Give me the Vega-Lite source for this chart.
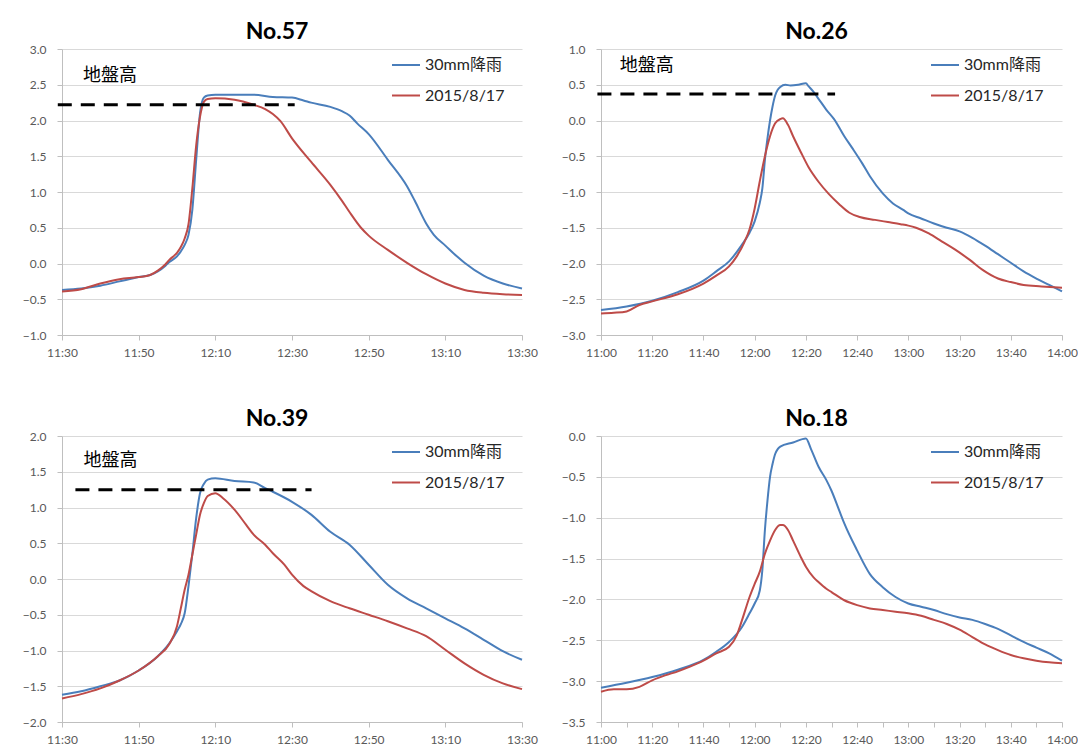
{
  "$schema": "https://vega.github.io/schema/vega-lite/v6.json",
  "padding": {"left": 22, "top": 21, "right": 0, "bottom": 0},
  "background": "white",
  "columns": 2,
  "spacing": {"row": 48, "column": 23},
  "resolve": {"scale": {"color": "independent"}, "legend": {"color": "independent"}},
  "datasets": {
    "ground": [
      {"panel": "No.57", "level": 2.22, "label": "地盤高"},
      {"panel": "No.26", "level": 0.37, "label": "地盤高"},
      {"panel": "No.39", "level": 1.25, "label": "地盤高"}
    ],
    "p57": [
      {"series": "30mm降雨", "time": "11:30", "value": -0.37},
      {"series": "30mm降雨", "time": "11:35", "value": -0.35},
      {"series": "30mm降雨", "time": "11:40", "value": -0.31},
      {"series": "30mm降雨", "time": "11:45", "value": -0.25},
      {"series": "30mm降雨", "time": "11:50", "value": -0.19},
      {"series": "30mm降雨", "time": "11:53", "value": -0.16},
      {"series": "30mm降雨", "time": "11:55", "value": -0.11},
      {"series": "30mm降雨", "time": "11:57", "value": -0.03},
      {"series": "30mm降雨", "time": "11:58", "value": 0.02},
      {"series": "30mm降雨", "time": "12:00", "value": 0.10},
      {"series": "30mm降雨", "time": "12:01", "value": 0.17},
      {"series": "30mm降雨", "time": "12:02", "value": 0.26},
      {"series": "30mm降雨", "time": "12:03", "value": 0.40},
      {"series": "30mm降雨", "time": "12:04", "value": 0.75},
      {"series": "30mm降雨", "time": "12:05", "value": 1.45},
      {"series": "30mm降雨", "time": "12:06", "value": 2.10},
      {"series": "30mm降雨", "time": "12:07", "value": 2.32},
      {"series": "30mm降雨", "time": "12:08", "value": 2.35},
      {"series": "30mm降雨", "time": "12:10", "value": 2.36},
      {"series": "30mm降雨", "time": "12:15", "value": 2.36},
      {"series": "30mm降雨", "time": "12:20", "value": 2.36},
      {"series": "30mm降雨", "time": "12:25", "value": 2.33},
      {"series": "30mm降雨", "time": "12:30", "value": 2.32},
      {"series": "30mm降雨", "time": "12:33", "value": 2.28},
      {"series": "30mm降雨", "time": "12:35", "value": 2.25},
      {"series": "30mm降雨", "time": "12:40", "value": 2.19},
      {"series": "30mm降雨", "time": "12:43", "value": 2.13},
      {"series": "30mm降雨", "time": "12:45", "value": 2.07},
      {"series": "30mm降雨", "time": "12:47", "value": 1.96},
      {"series": "30mm降雨", "time": "12:50", "value": 1.81},
      {"series": "30mm降雨", "time": "12:55", "value": 1.45},
      {"series": "30mm降雨", "time": "13:00", "value": 1.08},
      {"series": "30mm降雨", "time": "13:02", "value": 0.88},
      {"series": "30mm降雨", "time": "13:05", "value": 0.56},
      {"series": "30mm降雨", "time": "13:07", "value": 0.40},
      {"series": "30mm降雨", "time": "13:10", "value": 0.25},
      {"series": "30mm降雨", "time": "13:13", "value": 0.10},
      {"series": "30mm降雨", "time": "13:15", "value": 0.01},
      {"series": "30mm降雨", "time": "13:20", "value": -0.17},
      {"series": "30mm降雨", "time": "13:25", "value": -0.28},
      {"series": "30mm降雨", "time": "13:30", "value": -0.35},
      {"series": "2015/8/17", "time": "11:30", "value": -0.39},
      {"series": "2015/8/17", "time": "11:35", "value": -0.36},
      {"series": "2015/8/17", "time": "11:40", "value": -0.28},
      {"series": "2015/8/17", "time": "11:45", "value": -0.22},
      {"series": "2015/8/17", "time": "11:50", "value": -0.19},
      {"series": "2015/8/17", "time": "11:53", "value": -0.16},
      {"series": "2015/8/17", "time": "11:55", "value": -0.10},
      {"series": "2015/8/17", "time": "11:57", "value": -0.01},
      {"series": "2015/8/17", "time": "11:58", "value": 0.05},
      {"series": "2015/8/17", "time": "12:00", "value": 0.15},
      {"series": "2015/8/17", "time": "12:01", "value": 0.23},
      {"series": "2015/8/17", "time": "12:02", "value": 0.35},
      {"series": "2015/8/17", "time": "12:03", "value": 0.55},
      {"series": "2015/8/17", "time": "12:04", "value": 1.05},
      {"series": "2015/8/17", "time": "12:05", "value": 1.65},
      {"series": "2015/8/17", "time": "12:06", "value": 2.05},
      {"series": "2015/8/17", "time": "12:07", "value": 2.26},
      {"series": "2015/8/17", "time": "12:08", "value": 2.30},
      {"series": "2015/8/17", "time": "12:10", "value": 2.31},
      {"series": "2015/8/17", "time": "12:15", "value": 2.29},
      {"series": "2015/8/17", "time": "12:20", "value": 2.22},
      {"series": "2015/8/17", "time": "12:23", "value": 2.16},
      {"series": "2015/8/17", "time": "12:25", "value": 2.09},
      {"series": "2015/8/17", "time": "12:27", "value": 1.99},
      {"series": "2015/8/17", "time": "12:30", "value": 1.75},
      {"series": "2015/8/17", "time": "12:35", "value": 1.42},
      {"series": "2015/8/17", "time": "12:40", "value": 1.10},
      {"series": "2015/8/17", "time": "12:43", "value": 0.88},
      {"series": "2015/8/17", "time": "12:45", "value": 0.72},
      {"series": "2015/8/17", "time": "12:48", "value": 0.50},
      {"series": "2015/8/17", "time": "12:50", "value": 0.39},
      {"series": "2015/8/17", "time": "12:55", "value": 0.19},
      {"series": "2015/8/17", "time": "13:00", "value": 0.01},
      {"series": "2015/8/17", "time": "13:05", "value": -0.15},
      {"series": "2015/8/17", "time": "13:10", "value": -0.28},
      {"series": "2015/8/17", "time": "13:15", "value": -0.37},
      {"series": "2015/8/17", "time": "13:20", "value": -0.41},
      {"series": "2015/8/17", "time": "13:25", "value": -0.43},
      {"series": "2015/8/17", "time": "13:30", "value": -0.44}
    ],
    "p26": [
      {"series": "30mm降雨", "time": "11:00", "value": -2.65},
      {"series": "30mm降雨", "time": "11:10", "value": -2.60},
      {"series": "30mm降雨", "time": "11:20", "value": -2.52},
      {"series": "30mm降雨", "time": "11:30", "value": -2.40},
      {"series": "30mm降雨", "time": "11:40", "value": -2.24},
      {"series": "30mm降雨", "time": "11:45", "value": -2.11},
      {"series": "30mm降雨", "time": "11:50", "value": -1.97},
      {"series": "30mm降雨", "time": "11:55", "value": -1.74},
      {"series": "30mm降雨", "time": "11:58", "value": -1.57},
      {"series": "30mm降雨", "time": "12:00", "value": -1.41},
      {"series": "30mm降雨", "time": "12:02", "value": -1.15},
      {"series": "30mm降雨", "time": "12:03", "value": -0.95},
      {"series": "30mm降雨", "time": "12:04", "value": -0.55},
      {"series": "30mm降雨", "time": "12:05", "value": -0.25},
      {"series": "30mm降雨", "time": "12:06", "value": 0.00},
      {"series": "30mm降雨", "time": "12:07", "value": 0.20},
      {"series": "30mm降雨", "time": "12:08", "value": 0.35},
      {"series": "30mm降雨", "time": "12:09", "value": 0.43},
      {"series": "30mm降雨", "time": "12:10", "value": 0.47},
      {"series": "30mm降雨", "time": "12:12", "value": 0.50},
      {"series": "30mm降雨", "time": "12:14", "value": 0.49},
      {"series": "30mm降雨", "time": "12:17", "value": 0.50},
      {"series": "30mm降雨", "time": "12:20", "value": 0.52},
      {"series": "30mm降雨", "time": "12:21", "value": 0.48},
      {"series": "30mm降雨", "time": "12:23", "value": 0.40},
      {"series": "30mm降雨", "time": "12:25", "value": 0.30},
      {"series": "30mm降雨", "time": "12:28", "value": 0.15},
      {"series": "30mm降雨", "time": "12:31", "value": 0.02},
      {"series": "30mm降雨", "time": "12:35", "value": -0.22},
      {"series": "30mm降雨", "time": "12:38", "value": -0.38},
      {"series": "30mm降雨", "time": "12:42", "value": -0.60},
      {"series": "30mm降雨", "time": "12:45", "value": -0.78},
      {"series": "30mm降雨", "time": "12:50", "value": -1.02},
      {"series": "30mm降雨", "time": "12:54", "value": -1.16},
      {"series": "30mm降雨", "time": "12:58", "value": -1.25},
      {"series": "30mm降雨", "time": "13:00", "value": -1.30},
      {"series": "30mm降雨", "time": "13:05", "value": -1.37},
      {"series": "30mm降雨", "time": "13:10", "value": -1.44},
      {"series": "30mm降雨", "time": "13:15", "value": -1.50},
      {"series": "30mm降雨", "time": "13:20", "value": -1.55},
      {"series": "30mm降雨", "time": "13:25", "value": -1.64},
      {"series": "30mm降雨", "time": "13:30", "value": -1.75},
      {"series": "30mm降雨", "time": "13:35", "value": -1.87},
      {"series": "30mm降雨", "time": "13:40", "value": -1.99},
      {"series": "30mm降雨", "time": "13:45", "value": -2.11},
      {"series": "30mm降雨", "time": "13:50", "value": -2.21},
      {"series": "30mm降雨", "time": "13:55", "value": -2.30},
      {"series": "30mm降雨", "time": "14:00", "value": -2.39},
      {"series": "2015/8/17", "time": "11:00", "value": -2.70},
      {"series": "2015/8/17", "time": "11:05", "value": -2.69},
      {"series": "2015/8/17", "time": "11:10", "value": -2.67},
      {"series": "2015/8/17", "time": "11:15", "value": -2.58},
      {"series": "2015/8/17", "time": "11:20", "value": -2.53},
      {"series": "2015/8/17", "time": "11:30", "value": -2.43},
      {"series": "2015/8/17", "time": "11:40", "value": -2.28},
      {"series": "2015/8/17", "time": "11:45", "value": -2.17},
      {"series": "2015/8/17", "time": "11:50", "value": -2.04},
      {"series": "2015/8/17", "time": "11:53", "value": -1.90},
      {"series": "2015/8/17", "time": "11:56", "value": -1.70},
      {"series": "2015/8/17", "time": "11:58", "value": -1.52},
      {"series": "2015/8/17", "time": "12:00", "value": -1.23},
      {"series": "2015/8/17", "time": "12:02", "value": -0.85},
      {"series": "2015/8/17", "time": "12:04", "value": -0.50},
      {"series": "2015/8/17", "time": "12:06", "value": -0.22},
      {"series": "2015/8/17", "time": "12:08", "value": -0.04},
      {"series": "2015/8/17", "time": "12:10", "value": 0.02},
      {"series": "2015/8/17", "time": "12:11", "value": 0.03},
      {"series": "2015/8/17", "time": "12:13", "value": -0.06},
      {"series": "2015/8/17", "time": "12:15", "value": -0.22},
      {"series": "2015/8/17", "time": "12:18", "value": -0.44},
      {"series": "2015/8/17", "time": "12:21", "value": -0.65},
      {"series": "2015/8/17", "time": "12:25", "value": -0.86},
      {"series": "2015/8/17", "time": "12:29", "value": -1.03},
      {"series": "2015/8/17", "time": "12:33", "value": -1.17},
      {"series": "2015/8/17", "time": "12:37", "value": -1.29},
      {"series": "2015/8/17", "time": "12:41", "value": -1.35},
      {"series": "2015/8/17", "time": "12:47", "value": -1.39},
      {"series": "2015/8/17", "time": "12:52", "value": -1.42},
      {"series": "2015/8/17", "time": "12:57", "value": -1.45},
      {"series": "2015/8/17", "time": "13:00", "value": -1.47},
      {"series": "2015/8/17", "time": "13:03", "value": -1.50},
      {"series": "2015/8/17", "time": "13:08", "value": -1.58},
      {"series": "2015/8/17", "time": "13:13", "value": -1.69},
      {"series": "2015/8/17", "time": "13:18", "value": -1.80},
      {"series": "2015/8/17", "time": "13:24", "value": -1.95},
      {"series": "2015/8/17", "time": "13:29", "value": -2.09},
      {"series": "2015/8/17", "time": "13:35", "value": -2.21},
      {"series": "2015/8/17", "time": "13:40", "value": -2.26},
      {"series": "2015/8/17", "time": "13:45", "value": -2.30},
      {"series": "2015/8/17", "time": "13:52", "value": -2.32},
      {"series": "2015/8/17", "time": "14:00", "value": -2.34}
    ],
    "p39": [
      {"series": "30mm降雨", "time": "11:30", "value": -1.62},
      {"series": "30mm降雨", "time": "11:35", "value": -1.57},
      {"series": "30mm降雨", "time": "11:40", "value": -1.50},
      {"series": "30mm降雨", "time": "11:45", "value": -1.42},
      {"series": "30mm降雨", "time": "11:50", "value": -1.28},
      {"series": "30mm降雨", "time": "11:55", "value": -1.08},
      {"series": "30mm降雨", "time": "11:58", "value": -0.90},
      {"series": "30mm降雨", "time": "12:00", "value": -0.73},
      {"series": "30mm降雨", "time": "12:01", "value": -0.63},
      {"series": "30mm降雨", "time": "12:02", "value": -0.48},
      {"series": "30mm降雨", "time": "12:03", "value": -0.10},
      {"series": "30mm降雨", "time": "12:04", "value": 0.35},
      {"series": "30mm降雨", "time": "12:05", "value": 0.85},
      {"series": "30mm降雨", "time": "12:06", "value": 1.20},
      {"series": "30mm降雨", "time": "12:07", "value": 1.33},
      {"series": "30mm降雨", "time": "12:08", "value": 1.39},
      {"series": "30mm降雨", "time": "12:10", "value": 1.41},
      {"series": "30mm降雨", "time": "12:15", "value": 1.37},
      {"series": "30mm降雨", "time": "12:20", "value": 1.35},
      {"series": "30mm降雨", "time": "12:23", "value": 1.27},
      {"series": "30mm降雨", "time": "12:25", "value": 1.22},
      {"series": "30mm降雨", "time": "12:30", "value": 1.08},
      {"series": "30mm降雨", "time": "12:35", "value": 0.90},
      {"series": "30mm降雨", "time": "12:40", "value": 0.66},
      {"series": "30mm降雨", "time": "12:45", "value": 0.48},
      {"series": "30mm降雨", "time": "12:50", "value": 0.20},
      {"series": "30mm降雨", "time": "12:55", "value": -0.08},
      {"series": "30mm降雨", "time": "13:00", "value": -0.27},
      {"series": "30mm降雨", "time": "13:05", "value": -0.41},
      {"series": "30mm降雨", "time": "13:10", "value": -0.55},
      {"series": "30mm降雨", "time": "13:15", "value": -0.69},
      {"series": "30mm降雨", "time": "13:20", "value": -0.85},
      {"series": "30mm降雨", "time": "13:25", "value": -1.01},
      {"series": "30mm降雨", "time": "13:30", "value": -1.13},
      {"series": "2015/8/17", "time": "11:30", "value": -1.67},
      {"series": "2015/8/17", "time": "11:35", "value": -1.61},
      {"series": "2015/8/17", "time": "11:40", "value": -1.53},
      {"series": "2015/8/17", "time": "11:45", "value": -1.42},
      {"series": "2015/8/17", "time": "11:50", "value": -1.28},
      {"series": "2015/8/17", "time": "11:55", "value": -1.08},
      {"series": "2015/8/17", "time": "11:58", "value": -0.91},
      {"series": "2015/8/17", "time": "12:00", "value": -0.66},
      {"series": "2015/8/17", "time": "12:01", "value": -0.41},
      {"series": "2015/8/17", "time": "12:02", "value": -0.15},
      {"series": "2015/8/17", "time": "12:03", "value": 0.06},
      {"series": "2015/8/17", "time": "12:04", "value": 0.34},
      {"series": "2015/8/17", "time": "12:05", "value": 0.62},
      {"series": "2015/8/17", "time": "12:06", "value": 0.90},
      {"series": "2015/8/17", "time": "12:07", "value": 1.06},
      {"series": "2015/8/17", "time": "12:08", "value": 1.16},
      {"series": "2015/8/17", "time": "12:10", "value": 1.20},
      {"series": "2015/8/17", "time": "12:12", "value": 1.13},
      {"series": "2015/8/17", "time": "12:15", "value": 0.97},
      {"series": "2015/8/17", "time": "12:18", "value": 0.76},
      {"series": "2015/8/17", "time": "12:20", "value": 0.62},
      {"series": "2015/8/17", "time": "12:23", "value": 0.48},
      {"series": "2015/8/17", "time": "12:25", "value": 0.36},
      {"series": "2015/8/17", "time": "12:28", "value": 0.20},
      {"series": "2015/8/17", "time": "12:30", "value": 0.06},
      {"series": "2015/8/17", "time": "12:33", "value": -0.10},
      {"series": "2015/8/17", "time": "12:35", "value": -0.17},
      {"series": "2015/8/17", "time": "12:40", "value": -0.31},
      {"series": "2015/8/17", "time": "12:45", "value": -0.41},
      {"series": "2015/8/17", "time": "12:50", "value": -0.50},
      {"series": "2015/8/17", "time": "12:55", "value": -0.59},
      {"series": "2015/8/17", "time": "13:00", "value": -0.69},
      {"series": "2015/8/17", "time": "13:05", "value": -0.80},
      {"series": "2015/8/17", "time": "13:10", "value": -0.99},
      {"series": "2015/8/17", "time": "13:15", "value": -1.18},
      {"series": "2015/8/17", "time": "13:20", "value": -1.34},
      {"series": "2015/8/17", "time": "13:25", "value": -1.46},
      {"series": "2015/8/17", "time": "13:30", "value": -1.54}
    ],
    "p18": [
      {"series": "30mm降雨", "time": "11:00", "value": -3.08},
      {"series": "30mm降雨", "time": "11:10", "value": -3.02},
      {"series": "30mm降雨", "time": "11:20", "value": -2.95},
      {"series": "30mm降雨", "time": "11:30", "value": -2.86},
      {"series": "30mm降雨", "time": "11:40", "value": -2.74},
      {"series": "30mm降雨", "time": "11:45", "value": -2.64},
      {"series": "30mm降雨", "time": "11:50", "value": -2.52},
      {"series": "30mm降雨", "time": "11:55", "value": -2.34},
      {"series": "30mm降雨", "time": "11:58", "value": -2.17},
      {"series": "30mm降雨", "time": "12:00", "value": -2.05},
      {"series": "30mm降雨", "time": "12:02", "value": -1.89},
      {"series": "30mm降雨", "time": "12:03", "value": -1.64},
      {"series": "30mm降雨", "time": "12:04", "value": -1.15},
      {"series": "30mm降雨", "time": "12:05", "value": -0.79},
      {"series": "30mm降雨", "time": "12:06", "value": -0.50},
      {"series": "30mm降雨", "time": "12:07", "value": -0.34},
      {"series": "30mm降雨", "time": "12:08", "value": -0.22},
      {"series": "30mm降雨", "time": "12:09", "value": -0.16},
      {"series": "30mm降雨", "time": "12:10", "value": -0.13},
      {"series": "30mm降雨", "time": "12:15", "value": -0.08},
      {"series": "30mm降雨", "time": "12:20", "value": -0.03},
      {"series": "30mm降雨", "time": "12:22", "value": -0.16},
      {"series": "30mm降雨", "time": "12:25", "value": -0.38},
      {"series": "30mm降雨", "time": "12:28", "value": -0.54},
      {"series": "30mm降雨", "time": "12:30", "value": -0.67},
      {"series": "30mm降雨", "time": "12:33", "value": -0.91},
      {"series": "30mm降雨", "time": "12:35", "value": -1.07},
      {"series": "30mm降雨", "time": "12:40", "value": -1.40},
      {"series": "30mm降雨", "time": "12:45", "value": -1.69},
      {"series": "30mm降雨", "time": "12:50", "value": -1.85},
      {"series": "30mm降雨", "time": "12:55", "value": -1.97},
      {"series": "30mm降雨", "time": "13:00", "value": -2.05},
      {"series": "30mm降雨", "time": "13:05", "value": -2.09},
      {"series": "30mm降雨", "time": "13:10", "value": -2.13},
      {"series": "30mm降雨", "time": "13:15", "value": -2.18},
      {"series": "30mm降雨", "time": "13:20", "value": -2.22},
      {"series": "30mm降雨", "time": "13:25", "value": -2.25},
      {"series": "30mm降雨", "time": "13:30", "value": -2.30},
      {"series": "30mm降雨", "time": "13:35", "value": -2.36},
      {"series": "30mm降雨", "time": "13:40", "value": -2.44},
      {"series": "30mm降雨", "time": "13:45", "value": -2.52},
      {"series": "30mm降雨", "time": "13:50", "value": -2.59},
      {"series": "30mm降雨", "time": "13:55", "value": -2.66},
      {"series": "30mm降雨", "time": "14:00", "value": -2.75},
      {"series": "2015/8/17", "time": "11:00", "value": -3.13},
      {"series": "2015/8/17", "time": "11:05", "value": -3.10},
      {"series": "2015/8/17", "time": "11:10", "value": -3.10},
      {"series": "2015/8/17", "time": "11:15", "value": -3.07},
      {"series": "2015/8/17", "time": "11:20", "value": -2.99},
      {"series": "2015/8/17", "time": "11:25", "value": -2.93},
      {"series": "2015/8/17", "time": "11:30", "value": -2.88},
      {"series": "2015/8/17", "time": "11:35", "value": -2.82},
      {"series": "2015/8/17", "time": "11:40", "value": -2.75},
      {"series": "2015/8/17", "time": "11:45", "value": -2.66},
      {"series": "2015/8/17", "time": "11:50", "value": -2.58},
      {"series": "2015/8/17", "time": "11:53", "value": -2.44},
      {"series": "2015/8/17", "time": "11:55", "value": -2.26},
      {"series": "2015/8/17", "time": "11:58", "value": -1.97},
      {"series": "2015/8/17", "time": "12:00", "value": -1.81},
      {"series": "2015/8/17", "time": "12:02", "value": -1.66},
      {"series": "2015/8/17", "time": "12:04", "value": -1.44},
      {"series": "2015/8/17", "time": "12:06", "value": -1.28},
      {"series": "2015/8/17", "time": "12:08", "value": -1.15},
      {"series": "2015/8/17", "time": "12:10", "value": -1.09},
      {"series": "2015/8/17", "time": "12:11", "value": -1.09},
      {"series": "2015/8/17", "time": "12:13", "value": -1.15},
      {"series": "2015/8/17", "time": "12:15", "value": -1.28},
      {"series": "2015/8/17", "time": "12:18", "value": -1.48},
      {"series": "2015/8/17", "time": "12:20", "value": -1.60},
      {"series": "2015/8/17", "time": "12:23", "value": -1.73},
      {"series": "2015/8/17", "time": "12:25", "value": -1.79},
      {"series": "2015/8/17", "time": "12:28", "value": -1.87},
      {"series": "2015/8/17", "time": "12:30", "value": -1.91},
      {"series": "2015/8/17", "time": "12:35", "value": -2.01},
      {"series": "2015/8/17", "time": "12:40", "value": -2.07},
      {"series": "2015/8/17", "time": "12:45", "value": -2.11},
      {"series": "2015/8/17", "time": "12:50", "value": -2.13},
      {"series": "2015/8/17", "time": "12:55", "value": -2.15},
      {"series": "2015/8/17", "time": "13:00", "value": -2.17},
      {"series": "2015/8/17", "time": "13:05", "value": -2.20},
      {"series": "2015/8/17", "time": "13:10", "value": -2.25},
      {"series": "2015/8/17", "time": "13:15", "value": -2.30},
      {"series": "2015/8/17", "time": "13:20", "value": -2.37},
      {"series": "2015/8/17", "time": "13:25", "value": -2.46},
      {"series": "2015/8/17", "time": "13:30", "value": -2.55},
      {"series": "2015/8/17", "time": "13:35", "value": -2.62},
      {"series": "2015/8/17", "time": "13:40", "value": -2.68},
      {"series": "2015/8/17", "time": "13:45", "value": -2.72},
      {"series": "2015/8/17", "time": "13:50", "value": -2.75},
      {"series": "2015/8/17", "time": "13:55", "value": -2.77},
      {"series": "2015/8/17", "time": "14:00", "value": -2.78}
    ]
  },
  "concat": [
    {
      "width": 460, "height": 286,
      "title": {"text": "No.57"},
      "layer": [
        {
          "data": {"name": "p57", "format": {"parse": {"time": "date:'%H:%M'"}}},
          "mark": {"type": "line", "strokeWidth": 2, "interpolate": "monotone"},
          "encoding": {
            "x": {"field": "time", "type": "temporal", "title": null,
              "scale": {"domain": [{"year": 1900, "month": 1, "date": 1, "hours": 11, "minutes": 30}, {"year": 1900, "month": 1, "date": 1, "hours": 13, "minutes": 30}], "nice": false},
              "axis": {"format": "%H:%M",
                "values": [
                  {"year": 1900, "month": 1, "date": 1, "hours": 11, "minutes": 30},
                  {"year": 1900, "month": 1, "date": 1, "hours": 11, "minutes": 40},
                  {"year": 1900, "month": 1, "date": 1, "hours": 11, "minutes": 50},
                  {"year": 1900, "month": 1, "date": 1, "hours": 12, "minutes": 0},
                  {"year": 1900, "month": 1, "date": 1, "hours": 12, "minutes": 10},
                  {"year": 1900, "month": 1, "date": 1, "hours": 12, "minutes": 20},
                  {"year": 1900, "month": 1, "date": 1, "hours": 12, "minutes": 30},
                  {"year": 1900, "month": 1, "date": 1, "hours": 12, "minutes": 40},
                  {"year": 1900, "month": 1, "date": 1, "hours": 12, "minutes": 50},
                  {"year": 1900, "month": 1, "date": 1, "hours": 13, "minutes": 0},
                  {"year": 1900, "month": 1, "date": 1, "hours": 13, "minutes": 10},
                  {"year": 1900, "month": 1, "date": 1, "hours": 13, "minutes": 20},
                  {"year": 1900, "month": 1, "date": 1, "hours": 13, "minutes": 30}
                ],
                "labelExpr": "indexof(['11:30','11:50','12:10','12:30','12:50','13:10','13:30'], datum.label) >= 0 ? datum.label : ''"}},
            "y": {"field": "value", "type": "quantitative", "title": null,
              "scale": {"domain": [-1, 3], "nice": false},
              "axis": {"values": [-1, -0.5, 0, 0.5, 1, 1.5, 2, 2.5, 3], "format": ".1f"}},
            "color": {"field": "series", "type": "nominal", "sort": null,
              "scale": {"domain": ["30mm降雨", "2015/8/17"], "range": ["#4a7ebb", "#be4b48"]},
              "legend": {"title": null}}
          }
        },
        {
          "data": {"name": "ground"},
          "transform": [{"filter": "datum.panel == 'No.57'"}],
          "mark": {"type": "rule", "color": "black", "strokeWidth": 3, "strokeDash": [14, 9]},
          "encoding": {
            "x": {"datum": {"year": 1900, "month": 1, "date": 1, "hours": 11, "minutes": 28, "seconds": 54}, "type": "temporal"},
            "x2": {"datum": {"year": 1900, "month": 1, "date": 1, "hours": 12, "minutes": 30, "seconds": 42}},
            "y": {"field": "level", "type": "quantitative", "title": null,
              "axis": {"values": [-1, -0.5, 0, 0.5, 1, 1.5, 2, 2.5, 3], "format": ".1f"}}
          }
        },
        {
          "data": {"name": "ground"},
          "transform": [{"filter": "datum.panel == 'No.57'"}],
          "mark": {"type": "text", "align": "left", "baseline": "middle", "font": "Noto Sans CJK JP", "fontSize": 18, "color": "black", "dy": -29},
          "encoding": {
            "x": {"datum": {"year": 1900, "month": 1, "date": 1, "hours": 11, "minutes": 35, "seconds": 30}, "type": "temporal"},
            "y": {"field": "level", "type": "quantitative", "title": null,
              "axis": {"values": [-1, -0.5, 0, 0.5, 1, 1.5, 2, 2.5, 3], "format": ".1f"}},
            "text": {"field": "label"}
          }
        }
      ]
    },
    {
      "width": 461, "height": 286,
      "title": {"text": "No.26"},
      "layer": [
        {
          "data": {"name": "p26", "format": {"parse": {"time": "date:'%H:%M'"}}},
          "mark": {"type": "line", "strokeWidth": 2, "interpolate": "monotone"},
          "encoding": {
            "x": {"field": "time", "type": "temporal", "title": null,
              "scale": {"domain": [{"year": 1900, "month": 1, "date": 1, "hours": 11, "minutes": 0}, {"year": 1900, "month": 1, "date": 1, "hours": 14, "minutes": 0}], "nice": false},
              "axis": {"format": "%H:%M",
                "values": [
                  {"year": 1900, "month": 1, "date": 1, "hours": 11, "minutes": 0},
                  {"year": 1900, "month": 1, "date": 1, "hours": 11, "minutes": 10},
                  {"year": 1900, "month": 1, "date": 1, "hours": 11, "minutes": 20},
                  {"year": 1900, "month": 1, "date": 1, "hours": 11, "minutes": 30},
                  {"year": 1900, "month": 1, "date": 1, "hours": 11, "minutes": 40},
                  {"year": 1900, "month": 1, "date": 1, "hours": 11, "minutes": 50},
                  {"year": 1900, "month": 1, "date": 1, "hours": 12, "minutes": 0},
                  {"year": 1900, "month": 1, "date": 1, "hours": 12, "minutes": 10},
                  {"year": 1900, "month": 1, "date": 1, "hours": 12, "minutes": 20},
                  {"year": 1900, "month": 1, "date": 1, "hours": 12, "minutes": 30},
                  {"year": 1900, "month": 1, "date": 1, "hours": 12, "minutes": 40},
                  {"year": 1900, "month": 1, "date": 1, "hours": 12, "minutes": 50},
                  {"year": 1900, "month": 1, "date": 1, "hours": 13, "minutes": 0},
                  {"year": 1900, "month": 1, "date": 1, "hours": 13, "minutes": 10},
                  {"year": 1900, "month": 1, "date": 1, "hours": 13, "minutes": 20},
                  {"year": 1900, "month": 1, "date": 1, "hours": 13, "minutes": 30},
                  {"year": 1900, "month": 1, "date": 1, "hours": 13, "minutes": 40},
                  {"year": 1900, "month": 1, "date": 1, "hours": 13, "minutes": 50},
                  {"year": 1900, "month": 1, "date": 1, "hours": 14, "minutes": 0}
                ],
                "labelExpr": "indexof(['11:00','11:20','11:40','12:00','12:20','12:40','13:00','13:20','13:40','14:00'], datum.label) >= 0 ? datum.label : ''"}},
            "y": {"field": "value", "type": "quantitative", "title": null,
              "scale": {"domain": [-3, 1], "nice": false},
              "axis": {"values": [-3, -2.5, -2, -1.5, -1, -0.5, 0, 0.5, 1], "format": ".1f"}},
            "color": {"field": "series", "type": "nominal", "sort": null,
              "scale": {"domain": ["30mm降雨", "2015/8/17"], "range": ["#4a7ebb", "#be4b48"]},
              "legend": {"title": null}}
          }
        },
        {
          "data": {"name": "ground"},
          "transform": [{"filter": "datum.panel == 'No.26'"}],
          "mark": {"type": "rule", "color": "black", "strokeWidth": 3, "strokeDash": [14, 9]},
          "encoding": {
            "x": {"datum": {"year": 1900, "month": 1, "date": 1, "hours": 10, "minutes": 58, "seconds": 36}, "type": "temporal"},
            "x2": {"datum": {"year": 1900, "month": 1, "date": 1, "hours": 12, "minutes": 31, "seconds": 24}},
            "y": {"field": "level", "type": "quantitative", "title": null,
              "axis": {"values": [-3, -2.5, -2, -1.5, -1, -0.5, 0, 0.5, 1], "format": ".1f"}}
          }
        },
        {
          "data": {"name": "ground"},
          "transform": [{"filter": "datum.panel == 'No.26'"}],
          "mark": {"type": "text", "align": "left", "baseline": "middle", "font": "Noto Sans CJK JP", "fontSize": 18, "color": "black", "dy": -28},
          "encoding": {
            "x": {"datum": {"year": 1900, "month": 1, "date": 1, "hours": 11, "minutes": 7, "seconds": 18}, "type": "temporal"},
            "y": {"field": "level", "type": "quantitative", "title": null,
              "axis": {"values": [-3, -2.5, -2, -1.5, -1, -0.5, 0, 0.5, 1], "format": ".1f"}},
            "text": {"field": "label"}
          }
        }
      ]
    },
    {
      "width": 460, "height": 286,
      "title": {"text": "No.39"},
      "layer": [
        {
          "data": {"name": "p39", "format": {"parse": {"time": "date:'%H:%M'"}}},
          "mark": {"type": "line", "strokeWidth": 2, "interpolate": "monotone"},
          "encoding": {
            "x": {"field": "time", "type": "temporal", "title": null,
              "scale": {"domain": [{"year": 1900, "month": 1, "date": 1, "hours": 11, "minutes": 30}, {"year": 1900, "month": 1, "date": 1, "hours": 13, "minutes": 30}], "nice": false},
              "axis": {"format": "%H:%M",
                "values": [
                  {"year": 1900, "month": 1, "date": 1, "hours": 11, "minutes": 30},
                  {"year": 1900, "month": 1, "date": 1, "hours": 11, "minutes": 40},
                  {"year": 1900, "month": 1, "date": 1, "hours": 11, "minutes": 50},
                  {"year": 1900, "month": 1, "date": 1, "hours": 12, "minutes": 0},
                  {"year": 1900, "month": 1, "date": 1, "hours": 12, "minutes": 10},
                  {"year": 1900, "month": 1, "date": 1, "hours": 12, "minutes": 20},
                  {"year": 1900, "month": 1, "date": 1, "hours": 12, "minutes": 30},
                  {"year": 1900, "month": 1, "date": 1, "hours": 12, "minutes": 40},
                  {"year": 1900, "month": 1, "date": 1, "hours": 12, "minutes": 50},
                  {"year": 1900, "month": 1, "date": 1, "hours": 13, "minutes": 0},
                  {"year": 1900, "month": 1, "date": 1, "hours": 13, "minutes": 10},
                  {"year": 1900, "month": 1, "date": 1, "hours": 13, "minutes": 20},
                  {"year": 1900, "month": 1, "date": 1, "hours": 13, "minutes": 30}
                ],
                "labelExpr": "indexof(['11:30','11:50','12:10','12:30','12:50','13:10','13:30'], datum.label) >= 0 ? datum.label : ''"}},
            "y": {"field": "value", "type": "quantitative", "title": null,
              "scale": {"domain": [-2, 2], "nice": false},
              "axis": {"values": [-2, -1.5, -1, -0.5, 0, 0.5, 1, 1.5, 2], "format": ".1f"}},
            "color": {"field": "series", "type": "nominal", "sort": null,
              "scale": {"domain": ["30mm降雨", "2015/8/17"], "range": ["#4a7ebb", "#be4b48"]},
              "legend": {"title": null}}
          }
        },
        {
          "data": {"name": "ground"},
          "transform": [{"filter": "datum.panel == 'No.39'"}],
          "mark": {"type": "rule", "color": "black", "strokeWidth": 3, "strokeDash": [14, 9]},
          "encoding": {
            "x": {"datum": {"year": 1900, "month": 1, "date": 1, "hours": 11, "minutes": 33, "seconds": 30}, "type": "temporal"},
            "x2": {"datum": {"year": 1900, "month": 1, "date": 1, "hours": 12, "minutes": 35, "seconds": 6}},
            "y": {"field": "level", "type": "quantitative", "title": null,
              "axis": {"values": [-2, -1.5, -1, -0.5, 0, 0.5, 1, 1.5, 2], "format": ".1f"}}
          }
        },
        {
          "data": {"name": "ground"},
          "transform": [{"filter": "datum.panel == 'No.39'"}],
          "mark": {"type": "text", "align": "left", "baseline": "middle", "font": "Noto Sans CJK JP", "fontSize": 18, "color": "black", "dy": -29},
          "encoding": {
            "x": {"datum": {"year": 1900, "month": 1, "date": 1, "hours": 11, "minutes": 35, "seconds": 36}, "type": "temporal"},
            "y": {"field": "level", "type": "quantitative", "title": null,
              "axis": {"values": [-2, -1.5, -1, -0.5, 0, 0.5, 1, 1.5, 2], "format": ".1f"}},
            "text": {"field": "label"}
          }
        }
      ]
    },
    {
      "width": 461, "height": 286,
      "title": {"text": "No.18"},
      "data": {"name": "p18", "format": {"parse": {"time": "date:'%H:%M'"}}},
      "mark": {"type": "line", "strokeWidth": 2, "interpolate": "monotone"},
      "encoding": {
        "x": {"field": "time", "type": "temporal", "title": null,
          "scale": {"domain": [{"year": 1900, "month": 1, "date": 1, "hours": 11, "minutes": 0}, {"year": 1900, "month": 1, "date": 1, "hours": 14, "minutes": 0}], "nice": false},
          "axis": {"format": "%H:%M",
            "values": [
              {"year": 1900, "month": 1, "date": 1, "hours": 11, "minutes": 0},
              {"year": 1900, "month": 1, "date": 1, "hours": 11, "minutes": 10},
              {"year": 1900, "month": 1, "date": 1, "hours": 11, "minutes": 20},
              {"year": 1900, "month": 1, "date": 1, "hours": 11, "minutes": 30},
              {"year": 1900, "month": 1, "date": 1, "hours": 11, "minutes": 40},
              {"year": 1900, "month": 1, "date": 1, "hours": 11, "minutes": 50},
              {"year": 1900, "month": 1, "date": 1, "hours": 12, "minutes": 0},
              {"year": 1900, "month": 1, "date": 1, "hours": 12, "minutes": 10},
              {"year": 1900, "month": 1, "date": 1, "hours": 12, "minutes": 20},
              {"year": 1900, "month": 1, "date": 1, "hours": 12, "minutes": 30},
              {"year": 1900, "month": 1, "date": 1, "hours": 12, "minutes": 40},
              {"year": 1900, "month": 1, "date": 1, "hours": 12, "minutes": 50},
              {"year": 1900, "month": 1, "date": 1, "hours": 13, "minutes": 0},
              {"year": 1900, "month": 1, "date": 1, "hours": 13, "minutes": 10},
              {"year": 1900, "month": 1, "date": 1, "hours": 13, "minutes": 20},
              {"year": 1900, "month": 1, "date": 1, "hours": 13, "minutes": 30},
              {"year": 1900, "month": 1, "date": 1, "hours": 13, "minutes": 40},
              {"year": 1900, "month": 1, "date": 1, "hours": 13, "minutes": 50},
              {"year": 1900, "month": 1, "date": 1, "hours": 14, "minutes": 0}
            ],
            "labelExpr": "indexof(['11:00','11:20','11:40','12:00','12:20','12:40','13:00','13:20','13:40','14:00'], datum.label) >= 0 ? datum.label : ''"}},
        "y": {"field": "value", "type": "quantitative", "title": null,
          "scale": {"domain": [-3.5, 0], "nice": false},
          "axis": {"values": [-3.5, -3, -2.5, -2, -1.5, -1, -0.5, 0], "format": ".1f"}},
        "color": {"field": "series", "type": "nominal", "sort": null,
          "scale": {"domain": ["30mm降雨", "2015/8/17"], "range": ["#4a7ebb", "#be4b48"]},
          "legend": {"title": null}}
      }
    }
  ],
  "config": {
    "font": "Lato",
    "view": {"stroke": null},
    "title": {"font": "Lato", "fontSize": 23, "fontWeight": "bold", "color": "#000000", "anchor": "middle", "offset": -1, "dx": -15},
    "axis": {
      "labelFont": "Lato", "labelFontSize": 12, "labelColor": "#595959",
      "domainColor": "#bfbfbf", "tickColor": "#bfbfbf", "gridColor": "#d9d9d9",
      "tickSize": 5, "labelOverlap": false
    },
    "axisX": {"grid": false, "labelFlush": false, "labelPadding": 7, "minExtent": 25, "maxExtent": 25},
    "axisY": {"grid": true, "labelPadding": 11, "minExtent": 40, "maxExtent": 40},
    "legend": {
      "orient": "none", "legendX": 329, "legendY": 1,
      "direction": "vertical", "symbolType": "stroke", "symbolSize": 784, "symbolStrokeWidth": 2,
      "labelFont": "Lato, Noto Sans CJK JP", "labelFontSize": 16, "labelColor": "#262626",
      "labelOffset": 4, "rowPadding": 7.5, "padding": 0, "offset": 0
    }
  }
}
